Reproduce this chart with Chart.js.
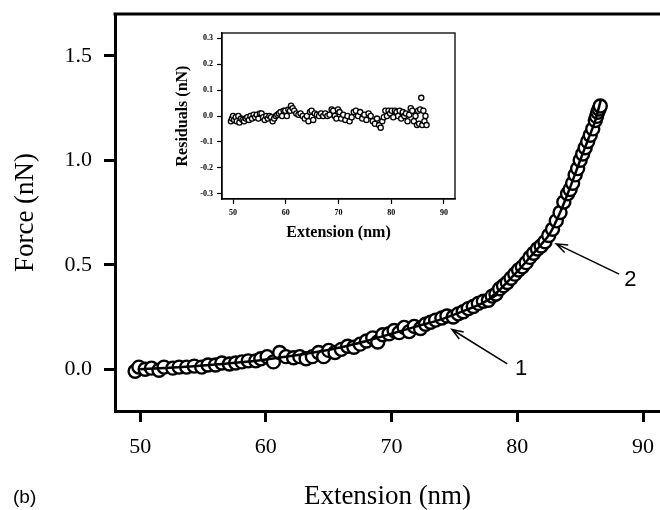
<!DOCTYPE html>
<html>
<head>
<meta charset="utf-8">
<script src="https://cdn.jsdelivr.net/npm/chart.js@4.4.1/dist/chart.umd.min.js"></script>
<style>
  html, body { margin: 0; padding: 0; background: #fff; }
  #wrap { position: relative; width: 660px; height: 510px; }
  #main { position: absolute; left: 0; top: 0; }
  #inset { position: absolute; left: 160px; top: 25px; }
</style>
</head>
<body>
<div id="wrap">
  <canvas id="main" width="660" height="510"></canvas>
  <canvas id="inset" width="310" height="225"></canvas>
</div>
<script>
// measured force-extension points (nm, nN)
const extension = [49.6, 49.9, 50.4, 50.9, 51.5, 51.9, 52.6, 53.1, 53.7, 54.3, 54.9, 55.4, 56.0, 56.5, 57.1, 57.6,
  58.1, 58.6, 59.2, 59.6, 60.1, 60.6, 61.1, 61.6, 62.2, 62.7, 63.2, 63.7, 64.2, 64.6, 65.0, 65.5,
  66.0, 66.5, 67.0, 67.5, 68.0, 68.5, 68.9, 69.3, 69.8, 70.2, 70.6, 71.0, 71.4, 71.8, 72.3, 72.7,
  73.1, 73.5, 74.0, 74.4, 74.9, 75.3, 75.7, 76.1, 76.5, 76.9, 77.3, 77.7, 78.0, 78.3, 78.6, 78.9,
  79.2, 79.5, 79.8, 80.1, 80.4, 80.7, 81.0, 81.3, 81.6, 81.9, 82.2, 82.5, 82.8, 83.1, 83.4, 83.7,
  84.0, 84.2, 84.4, 84.6, 84.8, 85.0, 85.2, 85.4, 85.6, 85.8, 86.0, 86.2, 86.3, 86.4, 86.5, 86.6];
const force = [-0.01, 0.01, 0.0, 0.005, -0.005, 0.01, 0.005, 0.01, 0.01, 0.015, 0.01, 0.02, 0.02, 0.03, 0.025, 0.03,
  0.035, 0.04, 0.04, 0.05, 0.06, 0.035, 0.08, 0.06, 0.055, 0.06, 0.05, 0.06, 0.08, 0.06, 0.09, 0.08,
  0.095, 0.11, 0.105, 0.12, 0.135, 0.15, 0.13, 0.165, 0.17, 0.185, 0.175, 0.20, 0.18, 0.205, 0.195, 0.215,
  0.225, 0.235, 0.245, 0.255, 0.25, 0.265, 0.275, 0.29, 0.30, 0.315, 0.325, 0.33, 0.35, 0.36, 0.385, 0.40,
  0.415, 0.435, 0.455, 0.475, 0.49, 0.51, 0.535, 0.555, 0.575, 0.59, 0.61, 0.64, 0.67, 0.71, 0.75, 0.80,
  0.84, 0.86, 0.89, 0.93, 0.96, 1.0, 1.03, 1.06, 1.09, 1.12, 1.15, 1.19, 1.21, 1.23, 1.245, 1.26];

// fitted curves 1 and 2
const fit1X = [50, 52, 54, 56, 58, 60, 62, 64, 66, 68, 70, 72, 74, 76, 77, 78.5];
const fit1Y = [0.0, 0.006, 0.013, 0.022, 0.033, 0.047, 0.063, 0.082, 0.105, 0.135, 0.17, 0.205, 0.24, 0.285, 0.31, 0.36];
const fit2X = [77.8, 78.6, 79.4, 80.2, 81.0, 81.8, 82.6, 83.4, 84.2, 85.0, 85.7, 86.2, 86.65];
const fit2Y = [0.34, 0.38, 0.43, 0.48, 0.535, 0.59, 0.65, 0.75, 0.87, 1.0, 1.11, 1.19, 1.29];

// residuals for the inset
const resX = [49.6, 49.8, 50.0, 50.2, 50.5, 50.7, 51.0, 51.2, 51.5, 51.8, 52.1, 52.4, 52.7, 53.0, 53.3, 53.6,
  53.9, 54.2, 54.5, 54.8, 55.1, 55.4, 55.7, 56.0, 56.3, 56.6, 56.9, 57.2, 57.5, 57.8, 58.1, 58.4,
  58.7, 59.0, 59.3, 59.6, 59.9, 60.2, 60.5, 60.8, 61.0, 61.3, 61.6, 62.0, 62.4, 62.8, 63.2, 63.6,
  64.0, 64.3, 64.6, 64.9, 65.2, 65.5, 65.9, 66.3, 66.7, 67.1, 67.5, 67.9, 68.3, 68.7, 69.0, 69.3,
  69.6, 69.9, 70.2, 70.5, 70.9, 71.3, 71.7, 72.1, 72.5, 72.9, 73.3, 73.7, 74.1, 74.5, 74.9, 75.3,
  75.7, 76.1, 76.5, 76.9, 77.3, 77.7, 78.0, 78.3, 78.6, 78.9, 79.2, 79.5, 79.8, 80.1, 80.4, 80.7,
  81.0, 81.3, 81.6, 81.9, 82.2, 82.5, 82.8, 83.1, 83.4, 83.7, 84.0, 84.3, 84.6, 84.9, 85.1, 85.3,
  85.5, 85.7, 85.9, 86.1, 86.3, 86.5, 86.7];
const resY = [-0.02, -0.01, 0.0, -0.015, -0.005, -0.02, 0.0, -0.025, -0.01, -0.015, -0.02, -0.01, -0.005, -0.015, 0.0, -0.01,
  0.005, -0.005, 0.005, -0.01, 0.01, 0.01, -0.005, -0.015, 0.0, -0.01, 0.0, -0.005, -0.02, -0.01, 0.0, 0.005,
  0.01, 0.015, 0.0, 0.02, 0.02, 0.0, 0.025, 0.02, 0.04, 0.03, 0.02, 0.01, 0.005, 0.01, 0.0, -0.01,
  0.0, -0.02, 0.015, 0.02, -0.015, 0.01, 0.005, 0.0, 0.01, 0.0, 0.01, 0.0, 0.005, 0.025, 0.02, 0.0,
  -0.01, 0.025, 0.015, -0.01, 0.005, -0.015, 0.0, -0.02, -0.005, 0.015, 0.02, 0.0, 0.015, -0.01, 0.005, -0.015,
  0.01, 0.0, -0.02, -0.03, -0.01, -0.035, -0.045, -0.02, -0.005, 0.02, 0.0, 0.02, 0.01, 0.02, -0.005, 0.02,
  0.015, 0.0, 0.02, -0.01, 0.015, 0.0, 0.01, -0.02, 0.005, 0.03, 0.02, -0.02, 0.0, -0.035, 0.02, -0.03,
  0.025, 0.07, -0.035, 0.02, -0.02, 0.0, -0.035];

const mainXTicks = [50, 60, 70, 80, 90];
const mainYTicks = [0.0, 0.5, 1.0, 1.5];
const insetXTicks = [50, 60, 70, 80, 90];
const insetYTicks = [-0.3, -0.2, -0.1, 0.0, 0.1, 0.2, 0.3];

// arrow annotations in data units: [tailX, tailY, headX, headY, label, labelX, labelY]
const arrows = [
  [79.2, 0.025, 74.8, 0.19, '1', 80.3, 0.0],
  [88.1, 0.455, 83.1, 0.60, '2', 89.0, 0.425]
];

const serif = 'Liberation Serif, Times New Roman, serif';
const sans = 'Liberation Sans, Arial, sans-serif';

const pts = (xs, ys) => xs.map((x, i) => ({ x: x, y: ys[i] }));

// drop the label overhang padding so the plot box sits where we want it
const noPad = s => { s.paddingTop = 0; s.paddingBottom = 0; s.paddingLeft = 0; s.paddingRight = 0; };

const mainDecor = {
  id: 'mainDecor',
  afterDraw(chart) {
    const { ctx, chartArea: a, scales: { x, y } } = chart;
    ctx.save();
    ctx.strokeStyle = '#000';
    ctx.lineWidth = 3;
    ctx.beginPath();
    ctx.moveTo(a.left - 1.5, a.top);
    ctx.lineTo(a.right, a.top);
    ctx.stroke();

    ctx.lineWidth = 1.5;
    ctx.fillStyle = '#000';
    ctx.font = '22px ' + sans;
    ctx.textAlign = 'center';
    ctx.textBaseline = 'middle';
    arrows.forEach(([tx, ty, hx, hy, lab, lx, ly]) => {
      const x0 = x.getPixelForValue(tx), y0 = y.getPixelForValue(ty);
      const x1 = x.getPixelForValue(hx), y1 = y.getPixelForValue(hy);
      const ang = Math.atan2(y1 - y0, x1 - x0);
      ctx.beginPath();
      ctx.moveTo(x0, y0);
      ctx.lineTo(x1, y1);
      ctx.moveTo(x1 - 12 * Math.cos(ang - 0.35), y1 - 12 * Math.sin(ang - 0.35));
      ctx.lineTo(x1, y1);
      ctx.lineTo(x1 - 12 * Math.cos(ang + 0.35), y1 - 12 * Math.sin(ang + 0.35));
      ctx.stroke();
      ctx.fillText(lab, x.getPixelForValue(lx), y.getPixelForValue(ly));
    });

    ctx.font = '19px ' + sans;
    ctx.textAlign = 'left';
    ctx.fillText('(b)', 13, 498);
    ctx.restore();
  }
};

new Chart(document.getElementById('main'), {
  type: 'scatter',
  data: {
    datasets: [
      {
        label: 'data', data: pts(extension, force),
        pointRadius: 6.5, pointBorderWidth: 2.4, pointBorderColor: '#000', pointBackgroundColor: '#fff',
        showLine: false, order: 2
      },
      {
        label: 'fit 1', data: pts(fit1X, fit1Y), showLine: true, pointRadius: 0,
        borderColor: '#000', borderWidth: 2.5, cubicInterpolationMode: 'monotone', order: 1
      },
      {
        label: 'fit 2', data: pts(fit2X, fit2Y), showLine: true, pointRadius: 0,
        borderColor: '#000', borderWidth: 2.5, cubicInterpolationMode: 'monotone', order: 1
      }
    ]
  },
  options: {
    responsive: false,
    animation: false,
    events: [],
    layout: { autoPadding: false, padding: { top: 14, left: 0, right: 0, bottom: 0 } },
    plugins: { legend: { display: false }, tooltip: { enabled: false } },
    scales: {
      x: {
        type: 'linear', min: 48, max: 91.35,
        afterBuildTicks: s => { s.ticks = mainXTicks.map(v => ({ value: v })); },
        afterFit: s => { s.height = 99; noPad(s); },
        border: { display: true, color: '#000', width: 3 },
        grid: { drawOnChartArea: false, tickLength: 11, tickWidth: 3, tickColor: '#000', color: '#000' },
        ticks: { color: '#000', font: { family: serif, size: 22 }, padding: 12, maxRotation: 0 },
        title: { display: true, text: 'Extension (nm)', color: '#000', font: { family: serif, size: 27, lineHeight: 1 }, padding: 0 }
      },
      y: {
        type: 'linear', min: -0.2, max: 1.7,
        afterBuildTicks: s => { s.ticks = mainYTicks.map(v => ({ value: v })); },
        afterFit: s => { s.width = 115; noPad(s); },
        border: { display: true, color: '#000', width: 3 },
        grid: { drawOnChartArea: false, tickLength: 11, tickWidth: 3, tickColor: '#000', color: '#000' },
        ticks: { color: '#000', font: { family: serif, size: 22 }, padding: 12, callback: v => v.toFixed(1) },
        title: { display: true, text: 'Force (nN)', color: '#000', font: { family: serif, size: 27, lineHeight: 1 }, padding: { top: 12 } }
      }
    }
  },
  plugins: [mainDecor]
});

const insetFrame = {
  id: 'insetFrame',
  afterDraw(chart) {
    const { ctx, chartArea: a } = chart;
    ctx.save();
    ctx.strokeStyle = '#000';
    ctx.lineWidth = 1.3;
    ctx.strokeRect(a.left, a.top, a.right - a.left, a.bottom - a.top);
    ctx.restore();
  }
};

new Chart(document.getElementById('inset'), {
  type: 'scatter',
  data: {
    datasets: [{
      label: 'residuals', data: pts(resX, resY),
      pointRadius: 2.6, pointBorderWidth: 1.3, pointBorderColor: '#000', pointBackgroundColor: '#fff'
    }]
  },
  options: {
    responsive: false,
    animation: false,
    events: [],
    layout: { autoPadding: false, padding: { top: 8, left: 0, right: 15, bottom: 0 } },
    plugins: { legend: { display: false }, tooltip: { enabled: false } },
    scales: {
      x: {
        type: 'linear', min: 47.9, max: 92.1,
        afterBuildTicks: s => { s.ticks = insetXTicks.map(v => ({ value: v })); },
        afterFit: s => { s.height = 51; noPad(s); },
        border: { display: true, color: '#000', width: 1.3 },
        grid: { drawOnChartArea: false, tickLength: 5, tickWidth: 1.2, tickColor: '#000' },
        ticks: { color: '#000', font: { family: serif, size: 8, weight: 'bold' }, padding: 4, maxRotation: 0 },
        title: { display: true, text: 'Extension (nm)', color: '#000', font: { family: serif, size: 16, weight: 'bold', lineHeight: 1 }, padding: { bottom: 9 } }
      },
      y: {
        type: 'linear', min: -0.32, max: 0.32,
        afterBuildTicks: s => { s.ticks = insetYTicks.map(v => ({ value: v })); },
        afterFit: s => { s.width = 62; noPad(s); },
        border: { display: true, color: '#000', width: 1.3 },
        grid: { drawOnChartArea: false, tickLength: 5, tickWidth: 1.2, tickColor: '#000' },
        ticks: { color: '#000', font: { family: serif, size: 8, weight: 'bold' }, padding: 4, callback: v => v.toFixed(1) },
        title: { display: true, text: 'Residuals (nN)', color: '#000', font: { family: serif, size: 16, weight: 'bold', lineHeight: 1 }, padding: { top: 15 } }
      }
    }
  },
  plugins: [insetFrame]
});
</script>
</body>
</html>
